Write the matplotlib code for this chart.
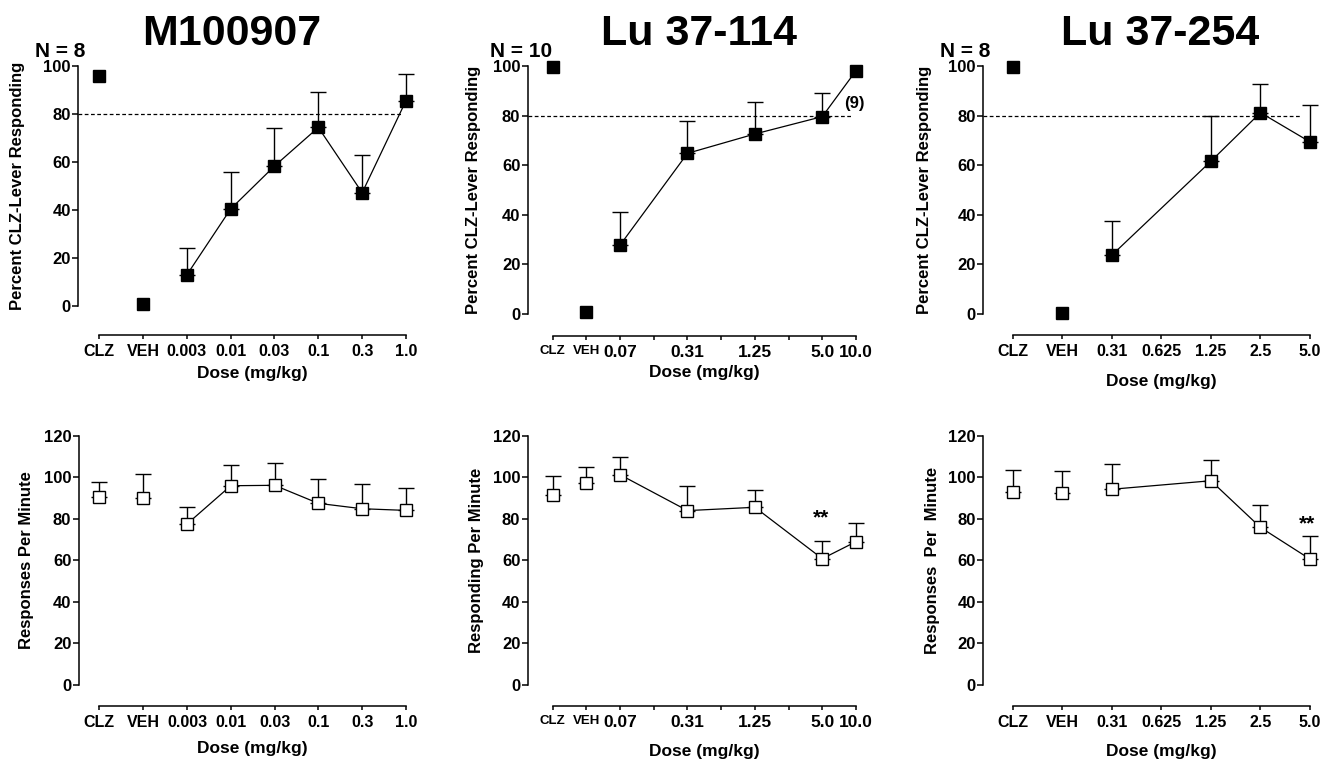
import numpy as np
import matplotlib
matplotlib.use("Agg")
import matplotlib.pyplot as plt

plt.rcParams['font.family'] = ['Liberation Sans', 'DejaVu Sans']
plt.rcParams['font.weight'] = 'bold'

W, H = 1333, 763

# M100907
m1_ticks = ['CLZ', 'VEH', '0.003', '0.01', '0.03', '0.1', '0.3', '1.0']
m1_pos = [0, 1, 2, 3, 4, 5, 6, 7]
m1_pct = [95.8, 0.8, 12.9, 40.4, 58.3, 74.4, 47.2, 85.6]
m1_pct_sem = [0, 0, 11.3, 15.4, 15.9, 14.9, 15.6, 10.9]
m1_rate = [90.4, 90.1, 77.5, 96.0, 96.2, 87.5, 84.9, 84.1]
m1_rate_sem = [7.6, 11.4, 8.1, 9.8, 10.8, 11.7, 11.9, 10.6]

# Lu 37-114
lu114_ticks = ['CLZ', 'VEH', '0.07', '', '0.31', '', '1.25', '', '5.0', '10.0']
lu114_pos = [0, 1, 2, 4, 6, 8, 9]
lu114_pct = [99.7, 0.9, 27.8, 64.8, 72.6, 79.6, 98.1]
lu114_pct_sem = [0, 0, 13.3, 13.0, 12.9, 9.5, 0]
lu114_rate = [91.5, 97.2, 101.3, 84.0, 85.6, 60.8, 69.0]
lu114_rate_sem = [9.0, 8.0, 8.7, 11.7, 8.2, 8.7, 9.0]

# Lu 37-254
lu254_ticks = ['CLZ', 'VEH', '0.31', '0.625', '1.25', '2.5', '5.0']
lu254_pos = [0, 1, 2, 4, 5, 6]
lu254_pct = [99.7, 0.3, 23.7, 61.6, 81.2, 69.4]
lu254_pct_sem = [0, 0, 13.9, 18.2, 11.7, 15.0]
lu254_rate = [92.8, 92.5, 94.3, 98.4, 75.9, 60.6]
lu254_rate_sem = [10.8, 10.6, 12.2, 9.9, 11.0, 11.1]

fig = plt.figure(figsize=(W / 100, H / 100), dpi=100)


def px_axes(l, t, r, b):
    return fig.add_axes([l / W, 1 - b / H, (r - l) / W, (b - t) / H])


def panel(ax, ticks, pos, mean, sem, filled, xlim, ylim, ytop, ylabel,
          ylab_off, dose_off, dashed_end=None, small_ticks=False):
    pos = np.array(pos)
    mean = np.array(mean)
    sem = np.array(sem)
    ax.set_xlim(*xlim)
    ax.set_ylim(*ylim)
    for s in ['top', 'right']:
        ax.spines[s].set_visible(False)
    ax.spines['left'].set_bounds(0, ytop)
    ax.spines['bottom'].set_bounds(0, len(ticks) - 1)
    for s in ['left', 'bottom']:
        ax.spines[s].set_linewidth(1.1)
    ax.set_yticks(np.arange(0, ytop + 1, 20))
    ax.set_xticks(range(len(ticks)))
    ax.set_xticklabels(ticks)
    ax.tick_params(axis='y', length=4.3, width=1.1, pad=1, labelsize=12)
    ax.tick_params(axis='x', length=3.2, width=1.1, pad=3.5, labelsize=11.5)
    if small_ticks:
        for i, lab in enumerate(ax.get_xticklabels()):
            lab.set_fontsize(9.5 if i < 2 else 12.5)

    if dashed_end is not None:
        ax.plot([xlim[0], dashed_end], [80, 80], color='black', lw=0.9,
                ls=(0, (3, 2)), zorder=1)

    has = sem > 0
    ax.errorbar(pos[has], mean[has], yerr=[np.zeros(has.sum()), sem[has]],
                fmt='none', ecolor='black', elinewidth=1, capsize=6,
                capthick=1, zorder=2, clip_on=False)
    ax.plot(pos[2:], mean[2:], color='black', lw=0.9, zorder=3)
    ax.plot(pos, mean, ls='none', marker='s', ms=9.2,
            mfc='black' if filled else 'white', mec='black', mew=1,
            zorder=4, clip_on=False)

    ax.annotate(ylabel, xy=(0, ytop / 2), xycoords=('axes fraction', 'data'),
                xytext=(-ylab_off / 1.389, 0), textcoords='offset points',
                rotation=90, ha='center', va='center', fontsize=12)
    ax.annotate('Dose (mg/kg)', xy=((len(ticks) - 1) / 2, 0),
                xycoords=('data', 'axes fraction'),
                xytext=(0, -dose_off / 1.389), textcoords='offset points',
                ha='center', va='center', fontsize=12.5)


# top row: percent CLZ-lever responding
ax1 = px_axes(78, 56.4, 419.2, 335)
panel(ax1, m1_ticks, m1_pos, m1_pct, m1_pct_sem, True, (-0.48, 7.3),
      (-12.1, 104), 100, 'Percent CLZ-Lever Responding', 60.5, 39,
      dashed_end=6.93)

ax2 = px_axes(527.7, 56.1, 866.1, 336)
panel(ax2, lu114_ticks, lu114_pos, lu114_pct, lu114_pct_sem, True,
      (-0.742, 9.3), (-8.87, 104), 100, 'Percent CLZ-Lever Responding', 54, 37,
      dashed_end=8.88, small_ticks=True)
ax2.text(8.94, 84.7, '(9)', ha='center', va='center', fontsize=12)

ax3 = px_axes(983.3, 56.1, 1322.4, 335)
panel(ax3, lu254_ticks, lu254_pos, lu254_pct, lu254_pct_sem, True,
      (-0.593, 6.25), (-8.47, 104), 100, 'Percent CLZ-Lever Responding', 59, 47,
      dashed_end=5.8)

# bottom row: response rate
ax4 = px_axes(78.7, 427.7, 419.1, 706)
panel(ax4, m1_ticks, m1_pos, m1_rate, m1_rate_sem, False, (-0.471, 7.3),
      (-10.28, 124), 120, 'Responses Per Minute', 52, 43)

ax5 = px_axes(527.7, 427.7, 866.1, 706)
panel(ax5, lu114_ticks, lu114_pos, lu114_rate, lu114_rate_sem, False,
      (-0.742, 9.3), (-10.28, 124), 120, 'Responding Per Minute', 51, 46,
      small_ticks=True)
ax5.text(7.95, 80.5, '**', ha='center', va='center', fontsize=15)

ax6 = px_axes(983.3, 427.7, 1322.4, 706)
panel(ax6, lu254_ticks, lu254_pos, lu254_rate, lu254_rate_sem, False,
      (-0.593, 6.25), (-10.28, 124), 120, 'Responses  Per  Minute', 51, 46)
ax6.text(5.93, 77.5, '**', ha='center', va='center', fontsize=15)

# titles and group sizes
fig.text(232 / W, 1 - 45 / H, 'M100907', ha='center', va='baseline', fontsize=31)
fig.text(699 / W, 1 - 45 / H, 'Lu 37-114', ha='center', va='baseline', fontsize=31)
fig.text(1160 / W, 1 - 45 / H, 'Lu 37-254', ha='center', va='baseline', fontsize=31)
fig.text(35 / W, 1 - 57 / H, 'N = 8', ha='left', va='baseline', fontsize=15)
fig.text(490 / W, 1 - 57 / H, 'N = 10', ha='left', va='baseline', fontsize=15)
fig.text(940 / W, 1 - 57 / H, 'N = 8', ha='left', va='baseline', fontsize=15)

fig.savefig('out.png', dpi=100)
